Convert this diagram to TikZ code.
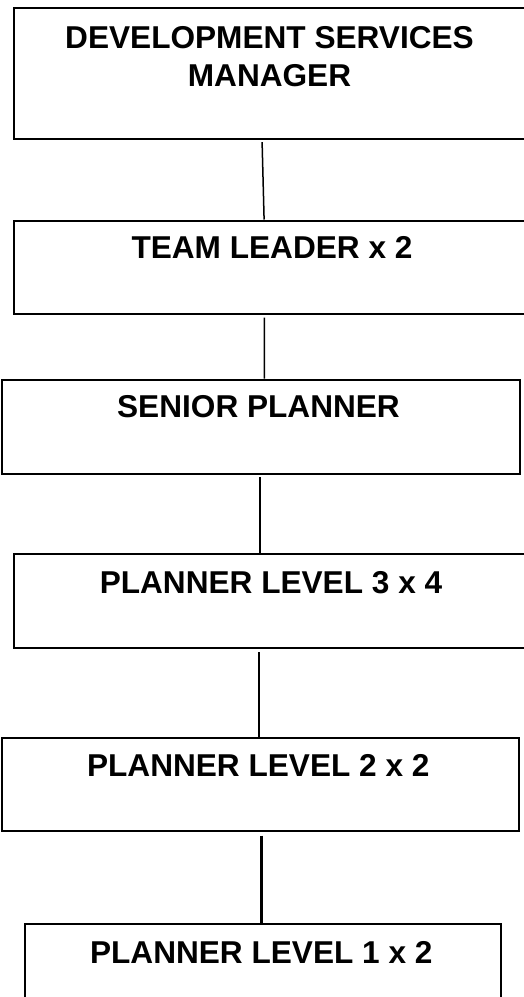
\documentclass[tikz,border=0pt]{standalone}
\usepackage{fontspec}
\setmainfont{Liberation Sans}
\begin{document}
\begin{tikzpicture}[x=1pt,y=1pt,
  box/.style={draw=black, line width=2.2pt, inner sep=0pt, anchor=north west, fill=none},
  lbl/.style={inner sep=0pt, font=\fontsize{31.6}{37.5}\selectfont\bfseries, text=black},
  conn/.style={draw=black, line width=1.5pt},
  connthick/.style={draw=black, line width=2.8pt}]
\useasboundingbox (0,0) rectangle (524,-997);
\clip (0,0) rectangle (524,-997);
\fill[white] (0,0) rectangle (524,-997);
% boxes
\node[box, minimum width=515.5pt, minimum height=131pt] (b1) at (12.5,-6.5) {};
\node[box, minimum width=515.5pt, minimum height=93pt]  (b2) at (12.5,-219.5) {};
\node[box, minimum width=517.7pt, minimum height=94pt]  (b3) at (0.8,-378.5) {};
\node[box, minimum width=515.5pt, minimum height=94pt]  (b4) at (12.5,-553) {};
\node[box, minimum width=517pt,   minimum height=93pt]  (b5) at (0.8,-737) {};
\node[box, minimum width=476.5pt, minimum height=100pt] (b6) at (23.5,-922.5) {};
% labels
\node[lbl, anchor=north, align=center] (t1) at (269.5,-26.5) {DEVELOPMENT SERVICES\\MANAGER};
\node[lbl, anchor=base] (t2) at (272,-258.3) {TEAM LEADER x 2};
\node[lbl, anchor=base] (t3) at (258.5,-417.7) {SENIOR PLANNER};
\node[lbl, anchor=base] (t4) at (271,-593.3) {PLANNER LEVEL 3 x 4};
\node[lbl, anchor=base] (t5) at (258.3,-776.7) {PLANNER LEVEL 2 x 2};
\node[lbl, anchor=base] (t6) at (261.3,-963.3) {PLANNER LEVEL 1 x 2};
% connectors
\draw[conn] ([xshift=-9.25pt,yshift=-2.5pt]b1.south) -- ([xshift=-7.25pt]b2.north);
\draw[conn] ([xshift=-7pt,yshift=-3pt]b2.south) -- ([xshift=3.65pt]b3.north);
\draw[conn] ([xshift=-0.65pt,yshift=-2.5pt]b3.south) -- ([xshift=-11.25pt]b4.north);
\draw[conn] ([xshift=-12.25pt,yshift=-3pt]b4.south) -- ([xshift=-1.3pt]b5.north);
\draw[connthick] ([xshift=1.4pt,yshift=-3.5pt]b5.south) -- ([xshift=-1.05pt]b6.north);
\end{tikzpicture}
\end{document}
